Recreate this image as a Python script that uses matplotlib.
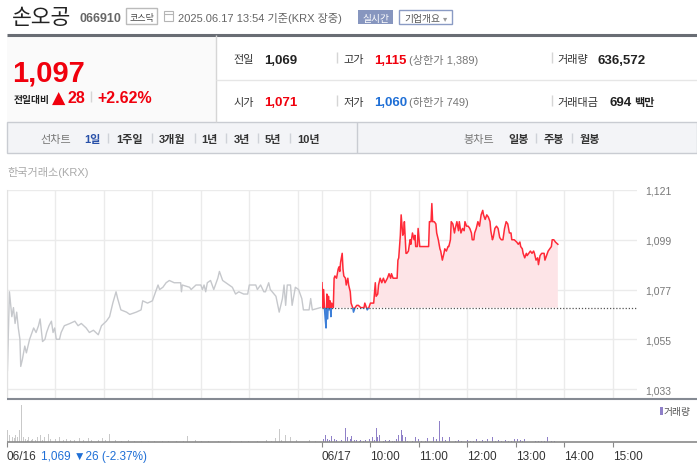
import matplotlib
matplotlib.use('Agg')
import matplotlib.pyplot as plt
from matplotlib.patches import Rectangle

plt.rcParams['font.family'] = ['Liberation Sans', 'Noto Sans CJK KR', 'DejaVu Sans']

# ---- data ----
prev_close = 1069
session_len = 390  # minutes, 09:00-15:30

# 06/16 intraday (minutes after 09:00, price)
prev_day = [(0, 1089), (0.5, 1041), (3, 1076), (6, 1065), (8, 1069), (10, 1062), (12, 1067),
            (14, 1060), (16, 1055), (17, 1043), (19, 1046), (22, 1052), (24, 1049), (28, 1055),
            (30, 1057), (33, 1060), (36, 1058), (39, 1061), (41, 1064), (44, 1054), (47, 1055),
            (49, 1058), (52, 1061), (55, 1063), (57, 1058), (59, 1060), (61, 1055), (65, 1055),
            (67, 1058), (71, 1061), (78, 1062), (84, 1063), (88, 1061), (92, 1062), (98, 1060),
            (102, 1058), (107, 1059), (113, 1057), (117, 1061), (123, 1063), (127, 1065),
            (131, 1071), (135, 1076), (137, 1073), (141, 1068), (148, 1067), (152, 1066),
            (160, 1067), (166, 1068), (168, 1072), (174, 1071), (180, 1072), (185, 1077),
            (187, 1079), (189, 1077), (193, 1078), (197, 1080), (201, 1081), (207, 1080),
            (215, 1080), (216, 1076), (217, 1079), (226, 1078), (228, 1077), (234, 1079),
            (240, 1079), (242, 1077), (244, 1079), (246, 1076), (248, 1080), (252, 1081),
            (256, 1077), (261, 1082), (263, 1085), (267, 1081), (271, 1080), (275, 1079),
            (279, 1078), (283, 1075), (287, 1076), (293, 1075), (298, 1075), (300, 1079),
            (308, 1079), (310, 1077), (314, 1079), (318, 1076), (320, 1076), (324, 1080),
            (326, 1077), (333, 1074), (337, 1067), (341, 1073), (343, 1079), (345, 1070),
            (347, 1079), (351, 1079), (353, 1070), (357, 1078), (361, 1077), (365, 1073),
            (367, 1068), (374, 1068), (376, 1073), (378, 1068), (388, 1069)]

# 06/17 intraday (minutes after 09:00, price)
today = [(0, 1080), (1, 1069), (2, 1077), (3, 1069), (4, 1064), (5, 1060), (6, 1075), (7, 1064),
         (8, 1074), (9, 1068), (10, 1072), (11, 1065), (12, 1071), (14, 1069), (15, 1082),
         (16, 1083), (18, 1082), (20, 1086), (21, 1087), (22, 1085), (23, 1089), (25, 1093),
         (26, 1086), (27, 1083), (29, 1082), (30, 1079), (32, 1082), (33, 1079), (35, 1076),
         (36, 1071), (38, 1069), (39, 1067), (41, 1069), (43, 1070), (45, 1070), (48, 1069),
         (52, 1069), (53, 1071), (55, 1069), (56, 1068), (58, 1069), (60, 1071), (64, 1071),
         (66, 1080), (67, 1074), (69, 1075), (70, 1079), (72, 1082), (74, 1080), (76, 1082),
         (78, 1080), (81, 1082), (83, 1084), (85, 1082), (86, 1084), (88, 1082), (93, 1082),
         (94, 1090), (95, 1091), (97, 1101), (98, 1110), (100, 1101), (101, 1102), (102, 1107),
         (104, 1093), (105, 1093), (107, 1094), (109, 1099), (110, 1097), (112, 1102),
         (114, 1099), (115, 1101), (116, 1096), (118, 1096), (119, 1104), (121, 1096),
         (132, 1096), (133, 1107), (135, 1107), (136, 1115), (137, 1107), (139, 1107),
         (141, 1106), (142, 1102), (144, 1099), (146, 1095), (147, 1094), (149, 1090),
         (151, 1093), (152, 1095), (154, 1094), (156, 1096), (157, 1096), (159, 1099),
         (160, 1107), (162, 1106), (164, 1102), (165, 1104), (167, 1107), (169, 1103),
         (170, 1107), (172, 1102), (174, 1104), (176, 1103), (177, 1107), (179, 1105),
         (181, 1105), (183, 1104), (185, 1102), (186, 1099), (188, 1099), (189, 1102),
         (191, 1104), (193, 1107), (195, 1105), (197, 1110), (199, 1112), (200, 1110),
         (202, 1108), (204, 1110), (206, 1109), (208, 1107), (209, 1103), (211, 1099),
         (212, 1100), (214, 1104), (216, 1105), (218, 1104), (220, 1100), (222, 1099),
         (224, 1099), (226, 1104), (228, 1107), (230, 1106), (232, 1102), (234, 1102),
         (235, 1099), (238, 1099), (241, 1098), (243, 1097), (245, 1098), (246, 1096),
         (248, 1095), (249, 1093), (251, 1091), (253, 1093), (254, 1092), (256, 1093),
         (258, 1094), (260, 1093), (262, 1094), (263, 1093), (265, 1090), (267, 1091),
         (268, 1088), (270, 1092), (272, 1093), (275, 1093), (276, 1090), (278, 1092),
         (280, 1094), (282, 1095), (284, 1096), (285, 1099), (287, 1099), (289, 1098),
         (292, 1097)]

# per-minute volume bars (minute, shares)
prev_vol = [(1, 12000), (3, 7000), (5, 3000), (7, 5000), (9, 4000), (11, 7000), (13, 5000),
            (16, 12000), (18, 37000), (20, 5000), (23, 3000), (25, 2000), (27, 5000), (30, 2000),
            (32, 3000), (35, 2000), (38, 5000), (42, 7000), (44, 2000), (46, 5000), (51, 8000),
            (54, 3000), (57, 2000), (60, 3000), (65, 5000), (70, 2000), (74, 3000), (79, 2500),
            (84, 2000), (90, 4000), (95, 2000), (101, 4000), (105, 2000), (109, 3000),
            (113, 2000), (118, 4000), (122, 2000), (127, 8000), (134, 2000), (142, 1500),
            (150, 2000), (158, 1500), (167, 1500), (175, 1500), (183, 1500), (192, 1500),
            (200, 1500), (210, 1500), (218, 1500), (224, 6000), (233, 2000), (241, 1500),
            (249, 1500), (262, 1500), (277, 1500), (290, 1500), (299, 1500), (310, 1500),
            (321, 2000), (327, 1500), (332, 4000), (337, 13000), (340, 2500), (345, 7000),
            (351, 5000), (358, 2000), (364, 2000), (369, 8000), (375, 2000), (382, 1500)]

today_vol = [(0, 9000), (2, 3000), (4, 7000), (7, 3000), (9, 2000), (12, 6000), (15, 3000),
             (18, 2000), (21, 2000), (24, 2000), (26, 9000), (29, 14000), (32, 5000), (35, 3000),
             (37, 6000), (40, 2000), (43, 2000), (46, 1500), (48, 2000), (51, 1500), (54, 2000),
             (57, 1500), (59, 3000), (62, 5500), (65, 2000), (67, 14000), (69, 5500), (71, 7500),
             (73, 3000), (76, 1500), (79, 2000), (82, 1500), (84, 2000), (87, 1500), (90, 1500),
             (92, 3000), (95, 7000), (98, 12000), (100, 7000), (103, 5000), (106, 1500),
             (109, 2000), (112, 1500), (116, 5000), (120, 3000), (123, 1500), (125, 2500),
             (128, 1500), (131, 4000), (135, 5500), (138, 5000), (142, 3000), (146, 21000),
             (149, 5000), (151, 1500), (153, 2000), (156, 1500), (158, 5000), (161, 1500),
             (165, 1500), (169, 2500), (173, 1500), (177, 1500), (180, 2500), (184, 1500),
             (188, 1500), (191, 3000), (195, 1500), (199, 2500), (202, 1500), (205, 3000),
             (208, 1500), (211, 5500), (215, 1500), (218, 2500), (222, 1500), (227, 2500),
             (231, 1500), (235, 1500), (238, 3000), (242, 3000), (246, 2500), (248, 1500),
             (251, 3000), (255, 1500), (260, 1500), (264, 1000), (268, 1500), (272, 1000),
             (276, 1000), (279, 5500), (284, 1500), (288, 1000), (291, 1000)]

y_ticks = [1033, 1055, 1077, 1099, 1121]
x_tick_min = [0, 390, 450, 510, 570, 630, 690, 750]
x_tick_lab = ['06/16', '06/17', '10:00', '11:00', '12:00', '13:00', '14:00', '15:00']

RED = '#f0000d'
BLUE = '#1f6fd6'
LINE_RED = '#ff2a38'
LINE_BLUE = '#3d7fd8'

W, H = 697, 464
fig = plt.figure(figsize=(W / 100, H / 100), dpi=100)


def box(x0, y0, x1, y1):
    return [x0 / W, 1 - y1 / H, (x1 - x0) / W, (y1 - y0) / H]


# ---- price chart ----
ax = fig.add_axes(box(7, 191, 637, 400))
ax.patch.set_alpha(0)
pm = [m for m, p in prev_day]
pp = [p for m, p in prev_day]
tm = [session_len + m for m, p in today]
tp = [p for m, p in today]

ax.plot(pm, pp, color='#c6c8cc', lw=1)
ax.fill_between(tm, tp, prev_close, where=[p >= prev_close for p in tp],
                interpolate=True, color='#fde4e7', lw=0)
ax.fill_between(tm, tp, prev_close, where=[p <= prev_close for p in tp],
                interpolate=True, color='#5f93dc', lw=0)
up, = ax.plot(tm, tp, color=LINE_RED, lw=1.1)
dn, = ax.plot(tm, tp, color=LINE_BLUE, lw=1.1)
up.set_clip_path(Rectangle((session_len, prev_close), 400, 100, transform=ax.transData))
dn.set_clip_path(Rectangle((session_len, prev_close - 100), 400, 100, transform=ax.transData))
ax.plot([session_len, 2 * session_len], [prev_close, prev_close], color='#555', lw=0.9,
        linestyle=(0, (1, 1.5)))

ax.set_xlim(0, 2 * session_len)
ax.set_ylim(1028.6, 1121)
ax.set_yticks(y_ticks)
ax.set_yticklabels([f'{v:,}' for v in y_ticks])
ax.set_xticks(list(range(0, 391, 60)) + list(range(390, 781, 60)))
ax.yaxis.tick_right()
ax.tick_params(axis='y', length=0, pad=6, labelsize=7.5, labelcolor='#777')
ax.tick_params(axis='x', length=0, labelbottom=False)
ax.grid(color='#ebebeb', lw=1)
ax.set_axisbelow(True)
for s in ['top', 'right', 'bottom']:
    ax.spines[s].set_visible(False)
ax.spines['left'].set_color('#e2e2e2')

# ---- volume chart ----
axv = fig.add_axes(box(7, 402, 637, 443))
axv.patch.set_alpha(0)
axv.bar([m for m, v in prev_vol], [v for m, v in prev_vol], width=1.1, color='#c9c9c9', lw=0)
axv.bar([session_len + m for m, v in today_vol], [v for m, v in today_vol], width=1.1,
        color='#8f80c8', lw=0)
axv.set_xlim(0, 2 * session_len)
axv.set_ylim(0, 41000)
axv.set_yticks([])
axv.set_xticks(x_tick_min)
axv.set_xticklabels(x_tick_lab)
for lbl in axv.get_xticklabels():
    lbl.set_ha('left')
axv.tick_params(axis='x', length=3.6, color='#888', labelsize=8.5, labelcolor='#333', pad=2)
for s in axv.spines.values():
    s.set_visible(False)

# ---- page furniture (pixel coordinates) ----
ov = fig.add_axes([0, 0, 1, 1], zorder=10)
ov.set_xlim(0, W)
ov.set_ylim(H, 0)
ov.axis('off')


def txt(x, y, s, size=8, color='#333', weight='normal', **kw):
    ov.text(x, y, s, fontsize=size, color=color, weight=weight, va='baseline', **kw)


def hline(x0, x1, y, color, lw=1):
    ov.plot([x0, x1], [y, y], color=color, lw=lw, solid_capstyle='butt')


def vline(x, y0, y1, color='#d5d5d5', lw=1):
    ov.plot([x, x], [y0, y1], color=color, lw=lw, solid_capstyle='butt')


# header
txt(12, 24.5, '손오공', 15.5, '#222')
txt(79, 22.5, '066910', 9, '#666', 'bold')
ov.add_patch(Rectangle((126, 9), 31, 16, fill=False, ec='#bbbbbb', lw=1))
txt(141.5, 21, '코스닥', 6.5, '#444', ha='center')
ov.add_patch(Rectangle((164, 12), 9, 10, fill=False, ec='#b5b5b5', lw=0.8))
hline(164, 173, 15, '#b5b5b5', 0.8)
txt(178, 22.5, '2025.06.17 13:54 기준(KRX 장중)', 8, '#666')
ov.add_patch(Rectangle((358, 11), 35, 14, fc='#8796bf', ec='none'))
txt(375.5, 22, '실시간', 7, 'white', ha='center')
ov.add_patch(Rectangle((399, 11), 53, 14, fill=False, ec='#8a9bc4', lw=1))
txt(404, 22, '기업개요', 7, '#555')
txt(443, 21.5, '▾', 6, '#999', family=['DejaVu Sans'])
hline(7, W, 35.5, '#696d74', 2.2)

# price summary panel
ov.add_patch(Rectangle((7, 37), 209, 86, fc='#fafafa', ec='none'))
vline(216, 36, 123, '#d6d6d6')
hline(216, W, 80.5, '#e6e6e6')
txt(12, 82, '1,097', 21, RED, 'bold')
txt(14, 103, '전일대비', 7, '#222', 'bold')
txt(52, 103.5, '▲', 12.5, RED, family=['DejaVu Sans'])
txt(67, 103, '28', 11.5, RED, 'bold')
vline(91, 92, 103)
txt(97, 103, '+2.62%', 11.5, RED, 'bold')

txt(233, 63.5, '전일', 8, '#333')
txt(264, 63.5, '1,069', 9.5, '#222', 'bold')
vline(337, 53, 64)
txt(343, 63.5, '고가', 8, '#333')
txt(374, 63.5, '1,115', 9.5, RED, 'bold')
txt(409, 63.5, '(상한가 1,389)', 8, '#777')
vline(552, 53, 64)
txt(557, 63.5, '거래량', 8, '#333')
txt(597, 63.5, '636,572', 9.5, '#222', 'bold')

txt(233, 106, '시가', 8, '#333')
txt(264, 106, '1,071', 9.5, RED, 'bold')
vline(337, 96, 107)
txt(343, 106, '저가', 8, '#333')
txt(374, 106, '1,060', 9.5, BLUE, 'bold')
txt(409, 106, '(하한가 749)', 8, '#777')
vline(552, 96, 107)
txt(557, 106, '거래대금', 8, '#333')
txt(609, 106, '694', 9.5, '#222', 'bold')
txt(634, 106, '백만', 8, '#222', 'bold')

# period nav bar
ov.add_patch(Rectangle((7, 123), W - 7, 31, fc='#f3f4f7', ec='#c9ccd2', lw=1))
vline(357, 123, 154, '#c9ccd2')
txt(40, 143, '선차트', 8, '#777')
txt(84, 143, '1일', 8, '#2850a8', 'bold')
for x, s in [(116, '1주일'), (159, '3개월'), (201, '1년'), (234, '3년'), (265, '5년'), (297, '10년')]:
    txt(x, 143, s, 8, '#333', 'bold')
for x in [108, 152, 195, 226, 258, 290, 536, 572]:
    vline(x, 134, 144, '#cfd2d8')
txt(463, 143, '봉차트', 8, '#777')
for x, s in [(508, '일봉'), (544, '주봉'), (580, '월봉')]:
    txt(x, 143, s, 8, '#333', 'bold')

txt(7, 176, '한국거래소(KRX)', 8, '#aaa')

# chart borders, volume legend, previous-day note
hline(7, W, 400, '#858a93', 1.5)
hline(7, W, 443, '#8a8a8a', 1.2)
ov.add_patch(Rectangle((660, 408), 2.5, 8, fc='#8f80c8', ec='none'))
txt(664, 415, '거래량', 7, '#555')
txt(41, 460, '1,069 ▼26 (-2.37%)', 8.5, BLUE)

fig.savefig('out.png', dpi=100)
